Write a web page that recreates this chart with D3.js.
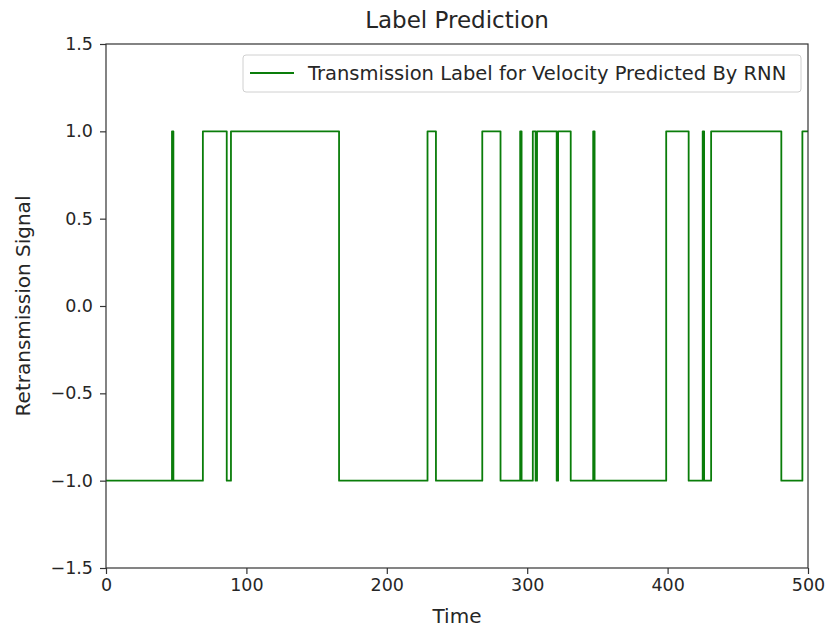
<!DOCTYPE html>
<html>
<head>
<meta charset="utf-8">
<script src="https://cdn.jsdelivr.net/npm/d3@7"></script>
<style>
  body { margin: 0; background: #fff; }
  text { font-family: "DejaVu Sans", sans-serif; fill: #262626; }
</style>
</head>
<body>
<script>
// step change points: at time t the signal switches to value v
const changeTimes  = [0, 47, 48, 69, 86, 89, 166, 229, 235, 268, 281, 295, 296, 304, 306, 307, 321, 322, 331, 347, 348, 399, 415, 425, 426, 431, 481, 496, 500]
const changeValues = [-1, 1, -1, 1, -1, 1, -1, 1, -1, 1, -1, 1, -1, 1, -1, 1, -1, 1, -1, 1, -1, 1, -1, 1, -1, 1, -1, 1, 1]
const xTicks = [0, 100, 200, 300, 400, 500]
const yTicks = [-1.5, -1.0, -0.5, 0.0, 0.5, 1.0, 1.5]

const w = 826
const h = 627
const margin = {left: 106, right: 18, top: 44, bottom: 59}

const data = changeTimes.map((t, i) => ({t: t, v: changeValues[i]}))

const svg = d3.select('body')
     .append('svg')
     .attr('width', w)
     .attr('height', h)

const xScale = d3.scaleLinear()
     .domain([0, 500])
     .range([margin.left, w - margin.right])

const yScale = d3.scaleLinear()
     .domain([-1.5, 1.5])
     .range([h - margin.bottom, margin.top])

const fmt = d => d3.format('.1f')(d).replace('-', '\u2212')

const xAxis = d3.axisBottom(xScale).tickValues(xTicks).tickSize(6).tickPadding(5)
const yAxis = d3.axisLeft(yScale).tickValues(yTicks).tickFormat(fmt).tickSize(6).tickPadding(7)

svg.append('clipPath')
     .attr('id', 'clip')
     .append('rect')
     .attr('x', margin.left)
     .attr('y', margin.top)
     .attr('width', w - margin.left - margin.right)
     .attr('height', h - margin.top - margin.bottom)

const line = d3.line()
     .x(d => xScale(d.t))
     .y(d => yScale(d.v))
     .curve(d3.curveStepAfter)

svg.append('path')
     .datum(data)
     .attr('clip-path', 'url(#clip)')
     .attr('d', line)
     .attr('fill', 'none')
     .attr('stroke', '#0a7d0a')
     .attr('stroke-width', 1.8)
     .attr('stroke-linejoin', 'round')

// frame
svg.append('rect')
     .attr('x', margin.left)
     .attr('y', margin.top)
     .attr('width', w - margin.left - margin.right)
     .attr('height', h - margin.top - margin.bottom)
     .attr('fill', 'none')
     .attr('stroke', '#333')
     .attr('stroke-width', 1.2)

const gx = svg.append('g')
     .attr('transform', 'translate(0,' + (h - margin.bottom) + ')')
     .call(xAxis)
const gy = svg.append('g')
     .attr('transform', 'translate(' + margin.left + ',0)')
     .call(yAxis)

;[gx, gy].forEach(g => {
     g.select('.domain').remove()
     g.selectAll('line').attr('stroke', '#333').attr('stroke-width', 1.2)
     g.selectAll('text').attr('font-size', 17.5).attr('font-family', 'DejaVu Sans').attr('fill', '#262626')
})

svg.append('text')
     .attr('x', (margin.left + w - margin.right) / 2)
     .attr('y', 28)
     .attr('text-anchor', 'middle')
     .attr('font-size', 23)
     .text('Label Prediction')

svg.append('text')
     .attr('x', (margin.left + w - margin.right) / 2)
     .attr('y', 623)
     .attr('text-anchor', 'middle')
     .attr('font-size', 20)
     .text('Time')

svg.append('text')
     .attr('transform', 'translate(30,' + ((margin.top + h - margin.bottom) / 2) + ') rotate(-90)')
     .attr('text-anchor', 'middle')
     .attr('font-size', 20)
     .text('Retransmission Signal')

// legend
const legend = svg.append('g')
     .attr('transform', 'translate(243,55)')

legend.append('rect')
     .attr('width', 558)
     .attr('height', 37)
     .attr('rx', 3)
     .attr('fill', 'white')
     .attr('stroke', '#d0d0d0')

legend.append('line')
     .attr('x1', 7)
     .attr('x2', 51)
     .attr('y1', 18)
     .attr('y2', 18)
     .attr('stroke', '#0a7d0a')
     .attr('stroke-width', 2)

legend.append('text')
     .attr('x', 65)
     .attr('y', 25)
     .attr('font-size', 19.5)
     .text('Transmission Label for Velocity Predicted By RNN')
</script>
</body>
</html>
